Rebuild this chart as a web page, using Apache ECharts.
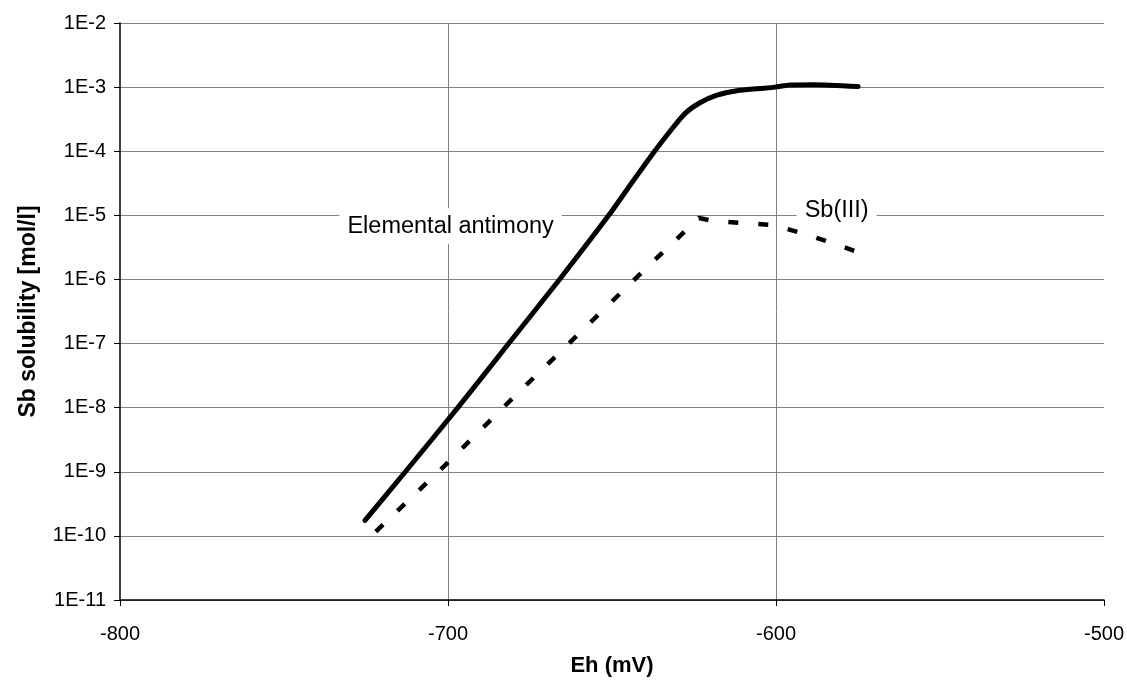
<!DOCTYPE html>
<html>
<head>
<meta charset="utf-8">
<script src="https://cdn.jsdelivr.net/npm/echarts@6/dist/echarts.min.js"></script>
<style>
  html, body { margin: 0; padding: 0; background: #fff; }
  #main { width: 1127px; height: 682px; }
</style>
</head>
<body>
<div id="main"></div>
<script>
// Eh (mV) and solubility (mol/l)
const ehElemental = [-725.3, -713, -697, -681.5, -666, -651, -644, -637, -632.3, -627.7, -623.2, -618, -611.9, -604.9, -600.3, -595.7, -588.7, -575];
const solElemental = [1.74e-10, 1e-9, 1e-8, 1e-7, 1e-6, 1e-5, 3.2e-5, 1e-4, 2.05e-4, 3.9e-4, 5.7e-4, 7.5e-4, 8.8e-4, 9.5e-4, 1.0e-3, 1.08e-3, 1.09e-3, 1.02e-3];

const ehSb3 = [-722, -700, -680, -660, -640, -623.5, -619.5, -610.4, -601.2, -593.3, -584.8, -574.4];
const solSb3 = [1.17e-10, 1.4e-9, 1.45e-8, 1.44e-7, 1.43e-6, 9.1e-6, 8.2e-6, 7.6e-6, 7.1e-6, 5.5e-6, 4.0e-6, 2.6e-6];

const xTicks = [-800, -700, -600, -500];
const yMinExp = -11, yMaxExp = -2;

// label anchors (data units)
const elementalLabelAt = [-699.2, 6.8e-6];
const sb3LabelAt = [-581.5, 1.21e-5];

const FONT = '"Liberation Sans", Arial, Helvetica, sans-serif';

const zip = (xs, ys) => xs.map((x, i) => [x, ys[i]]);

const labelBox = {
  show: true,
  position: 'inside',
  color: '#000',
  fontFamily: FONT,
  fontSize: 23.5,
  backgroundColor: '#fff',
  padding: [6, 8]
};

let chart = echarts.init(document.getElementById('main'));
chart.setOption({
  animation: false,
  backgroundColor: '#fff',
  grid: { left: 120, right: 22, top: 23, bottom: 79 },
  xAxis: {
    type: 'value',
    min: xTicks[0],
    max: xTicks[xTicks.length - 1],
    interval: 100,
    name: 'Eh (mV)',
    nameLocation: 'middle',
    nameGap: 55,
    nameTextStyle: { fontFamily: FONT, fontSize: 22, fontWeight: 'bold', color: '#000' },
    axisLine: { onZero: false, lineStyle: { color: '#000', width: 1.5 } },
    axisTick: { show: true, length: 6, lineStyle: { color: '#000' } },
    axisLabel: { fontFamily: FONT, fontSize: 20, color: '#000', margin: 24 },
    splitLine: { show: true, showMinLine: false, showMaxLine: false, lineStyle: { color: '#808080', width: 1 } }
  },
  yAxis: {
    type: 'log',
    logBase: 10,
    min: Math.pow(10, yMinExp),
    max: Math.pow(10, yMaxExp),
    interval: 1,
    name: 'Sb solubility [mol/l]',
    nameLocation: 'middle',
    nameGap: 80,
    nameRotate: 90,
    nameTextStyle: { fontFamily: FONT, fontSize: 23, fontWeight: 'bold', color: '#000' },
    axisLine: { show: true, lineStyle: { color: '#000', width: 1.5 } },
    axisTick: { show: true, length: 6, lineStyle: { color: '#000' } },
    axisLabel: {
      fontFamily: FONT, fontSize: 20, color: '#000', margin: 14,
      formatter: v => '1E' + Math.round(Math.log10(v))
    },
    splitLine: { show: true, lineStyle: { color: '#808080', width: 1 } }
  },
  series: [
    {
      name: 'Elemental antimony',
      type: 'line',
      data: zip(ehElemental, solElemental),
      showSymbol: false,
      smooth: 0.25,
      lineStyle: { color: '#000', width: 5, cap: 'round', join: 'round' },
      markPoint: {
        symbol: 'rect',
        symbolSize: 1,
        itemStyle: { color: 'rgba(0,0,0,0)' },
        label: labelBox,
        data: [{ coord: elementalLabelAt, value: 'Elemental antimony', label: { formatter: 'Elemental antimony' } }]
      }
    },
    {
      name: 'Sb(III)',
      type: 'line',
      data: zip(ehSb3, solSb3),
      showSymbol: false,
      lineStyle: { color: '#000', width: 4.5, type: [10, 20], cap: 'butt' },
      markPoint: {
        symbol: 'rect',
        symbolSize: 1,
        itemStyle: { color: 'rgba(0,0,0,0)' },
        label: labelBox,
        data: [{ coord: sb3LabelAt, value: 'Sb(III)', label: { formatter: 'Sb(III)' } }]
      }
    }
  ]
});
</script>
</body>
</html>
